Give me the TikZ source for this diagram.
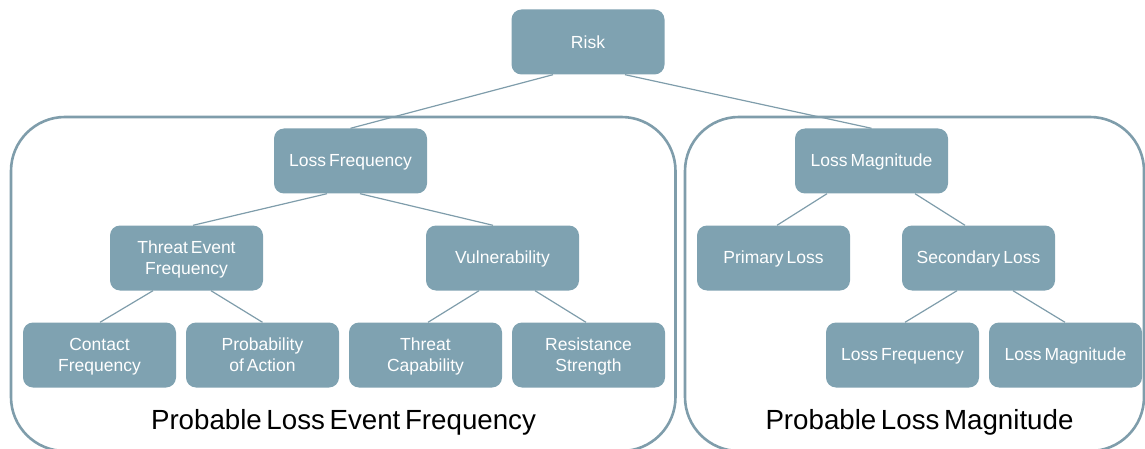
\documentclass[tikz,border=0pt]{standalone}
\usepackage{fontspec}
\setmainfont[WordSpace=0.6]{Liberation Sans}
\definecolor{boxfill}{HTML}{7FA2B1}
\definecolor{linec}{HTML}{7F9DAB}
\newcommand{\cs}{\rule[-3pt]{0pt}{18.5pt}}
\tikzset{
  box/.style={draw=none, fill=boxfill, rounded corners=10pt, minimum width=153pt, minimum height=65pt,
    text=white, align=center, inner sep=0pt, font=\fontsize{17.5}{21}\selectfont},
  conn/.style={draw=linec, line width=1.2pt},
  group/.style={draw=linec, line width=2.6pt, rounded corners=54pt},
  grouplabel/.style={font=\fontsize{27.7}{32}\selectfont, text=black, inner sep=0pt}
}
\begin{document}
\begin{tikzpicture}[x=1pt,y=-1pt]
\useasboundingbox (0,0) rectangle (1145,449);
% containers
\draw[group] (11,117) rectangle (675.5,451);
\draw[group] (685,117) rectangle (1144,451);
\node[grouplabel] (lblL) at (343.5,422) {Probable Loss Event Frequency};
\node[grouplabel] (lblR) at (919.5,422) {Probable Loss Magnitude};
% nodes
\node[box] (risk) at (588,42) {\cs Risk};
\node[box] (lf) at (350.5,161) {\cs Loss Frequency};
\node[box] (lm) at (871.5,161) {\cs Loss Magnitude};
\node[box] (tef) at (186.5,258) {\cs Threat Event\\\cs Frequency};
\node[box] (vul) at (502.5,258) {\cs Vulnerability};
\node[box] (pl) at (773.5,258) {\cs Primary Loss};
\node[box] (sl) at (978.5,258) {\cs Secondary Loss};
\node[box] (cf) at (99.5,355) {\cs Contact\\\cs Frequency};
\node[box] (pa) at (262.5,355) {\cs Probability\\\cs of Action};
\node[box] (tc) at (425.5,355) {\cs Threat\\\cs Capability};
\node[box] (rs) at (588.5,355) {\cs Resistance\\\cs Strength};
\node[box] (lf2) at (902.5,355) {\cs Loss Frequency};
\node[box] (lm2) at (1065.5,355) {\cs Loss Magnitude};
% connectors
\draw[conn] ([xshift=-35pt]risk.south) -- (lf.north);
\draw[conn] ([xshift=37pt]risk.south) -- (lm.north);
\draw[conn] ([xshift=-23.5pt]lf.south) -- ([xshift=6.5pt]tef.north);
\draw[conn] ([xshift=9.5pt]lf.south) -- ([xshift=-9.5pt]vul.north);
\draw[conn] ([xshift=-33.5pt]tef.south) -- ([xshift=0.5pt]cf.north);
\draw[conn] ([xshift=24.5pt]tef.south) -- (pa.north);
\draw[conn] ([xshift=-23.5pt]vul.south) -- ([xshift=2.5pt]tc.north);
\draw[conn] ([xshift=32.5pt]vul.south) -- ([xshift=-2.5pt]rs.north);
\draw[conn] ([xshift=-44.5pt]lm.south) -- ([xshift=3.5pt]pl.north);
\draw[conn] ([xshift=43.5pt]lm.south) -- ([xshift=-13.5pt]sl.north);
\draw[conn] ([xshift=-21.5pt]sl.south) -- ([xshift=2.5pt]lf2.north);
\draw[conn] ([xshift=34.5pt]sl.south) -- ([xshift=-0.5pt]lm2.north);
\end{tikzpicture}
\end{document}
